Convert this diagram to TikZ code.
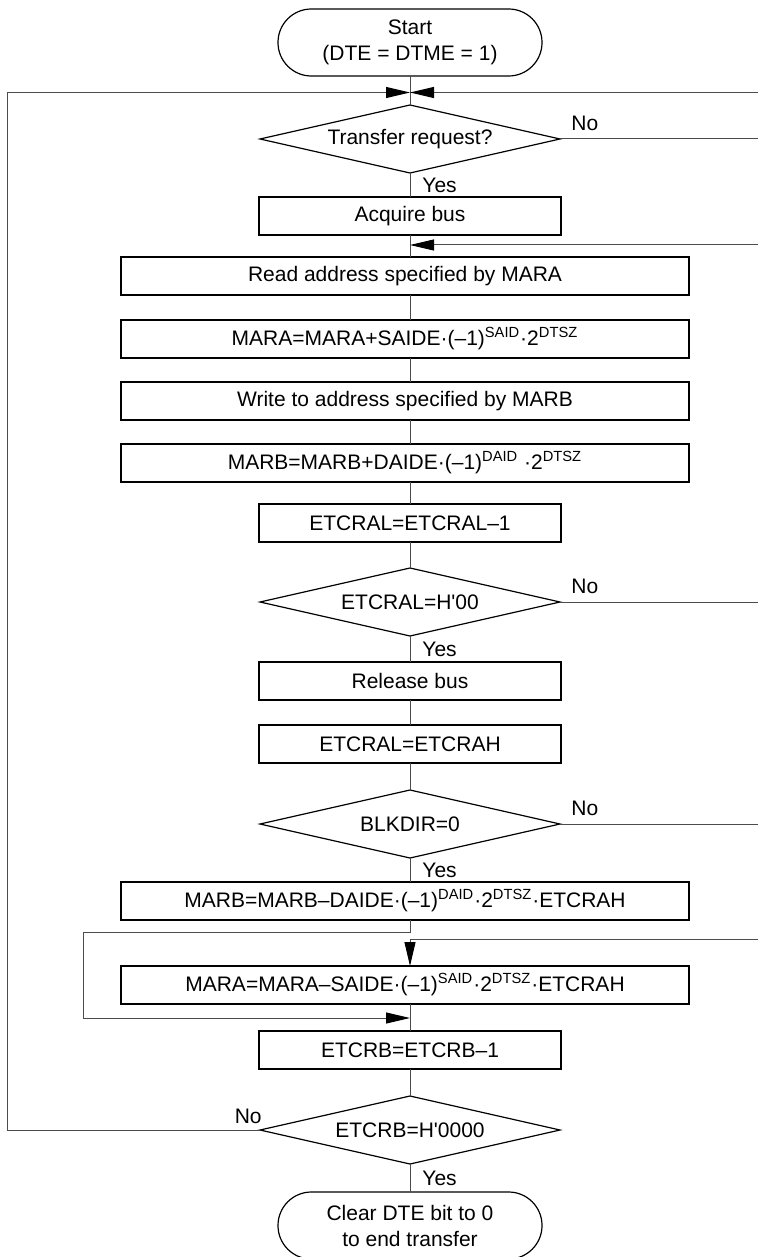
\documentclass[tikz,border=0pt]{standalone}
\usepackage{fontspec}
\setmainfont{Liberation Sans}
\usetikzlibrary{shapes.geometric, arrows.meta, positioning, calc}

\begin{document}
\begin{tikzpicture}[
    x=0.5pt, y=-0.5pt,
    font=\fontsize{10.5}{13}\selectfont,
    proc/.style={rectangle, draw=black, line width=0.6pt, minimum height=19pt, inner sep=1pt, outer sep=0pt, align=center},
    narrow/.style={proc, minimum width=151pt},
    wide/.style={proc, minimum width=284pt},
    decide/.style={diamond, draw=black, line width=0.6pt, minimum width=150pt, minimum height=34pt, inner sep=0pt, outer sep=0pt, aspect=4.4},
    term/.style={rectangle, rounded corners=16.7pt, draw=black, line width=0.6pt, minimum width=132pt, minimum height=33.5pt, outer sep=0pt, align=center},
    conn/.style={draw=black!70, line width=0.5pt},
    arr/.style={conn, -{Triangle[length=12pt, width=5.5pt, color=black]}},
    lbl/.style={inner sep=1pt}
]
\useasboundingbox (0,0) rectangle (758,1257);

\node[term] (start) at (410,42.5) {Start\\(DTE = DTME = 1)};
\node[decide, below=14.5pt of start] (d1) {Transfer request?};
\node[narrow, below=12pt of d1] (acq) {Acquire bus};
\node[wide, below=11pt of acq, xshift=-2.5pt] (rd) {Read address specified by MARA};
\node[wide, below=12.5pt of rd] (mara) {MARA=MARA+SAIDE·(–1)\textsuperscript{SAID}·2\textsuperscript{DTSZ}};
\node[wide, below=12pt of mara] (wr) {Write to address specified by MARB};
\node[wide, below=12pt of wr] (marb) {MARB=MARB+DAIDE·(–1)\textsuperscript{DAID} ·2\textsuperscript{DTSZ}};
\node[narrow, below=11pt of marb, xshift=2.5pt] (etl) {ETCRAL=ETCRAL–1};
\node[decide, below=13pt of etl] (d2) {ETCRAL=H\textquotesingle 00};
\node[narrow, below=13pt of d2] (rel) {Release bus};
\node[narrow, below=12.5pt of rel] (eth) {ETCRAL=ETCRAH};
\node[decide, below=13.5pt of eth] (d3) {BLKDIR=0};
\node[wide, below=12pt of d3, xshift=-2.5pt] (marb2) {MARB=MARB–DAIDE·(–1)\textsuperscript{DAID}·2\textsuperscript{DTSZ}·ETCRAH};
\node[wide, below=23pt of marb2] (mara2) {MARA=MARA–SAIDE·(–1)\textsuperscript{SAID}·2\textsuperscript{DTSZ}·ETCRAH};
\node[narrow, below=13.5pt of mara2, xshift=2.5pt] (etb) {ETCRB=ETCRB–1};
\node[decide, below=13.5pt of etb] (d4) {ETCRB=H\textquotesingle 0000};
\node[term, below=14pt of d4] (fin) {Clear DTE bit to 0\\to end transfer};

% joints of the loops
\coordinate (join) at (410,92.5);
\coordinate (back) at (410,245);
\coordinate (entry) at (410,939);
\coordinate (skip) at (83,932);
\coordinate (merge) at (410,1018);
\coordinate (lft) at (7,0);
\coordinate (rgt) at (758,0);

\foreach \a/\b in {start/d1, d1/acq, acq/rd, rd/mara, mara/wr, wr/marb, marb/etl, etl/d2, d2/rel, rel/eth, eth/d3, d3/marb2, mara2/etb, etb/d4, d4/fin}
    \draw[conn] (\a.south -| start) -- (\b.north -| start);

\draw[arr] (d4.west) -- (d4.west -| lft) |- (join);
\draw[arr] (join -| rgt) -- (join);
\draw[conn] (d1.east) -- (d1.east -| rgt);
\draw[arr] (back -| rgt) -- (back);
\draw[conn] (d2.east) -- (d2.east -| rgt);
\draw[conn] (d3.east) -- (d3.east -| rgt);
\draw[arr] (entry -| rgt) -| (mara2.north -| start);
\draw[arr] (marb2.south -| start) |- (skip) |- (merge);

\node[lbl, anchor=south west, xshift=4.5pt, yshift=3pt] at (d1.east) {No};
\node[lbl, anchor=south west, xshift=4.5pt, yshift=3pt] at (d2.east) {No};
\node[lbl, anchor=south west, xshift=4.5pt, yshift=3pt] at (d3.east) {No};
\node[lbl, anchor=south east, xshift=2pt, yshift=2pt] at (d4.west) {No};
\node[lbl, anchor=west, xshift=5pt] at ($(d1.south)!0.5!(acq.north)$) {Yes};
\node[lbl, anchor=west, xshift=5pt] at ($(d2.south)!0.5!(rel.north)$) {Yes};
\node[lbl, anchor=west, xshift=5pt] at ($(d3.south)!0.5!(d3.south |- marb2.north)$) {Yes};
\node[lbl, anchor=west, xshift=5pt] at ($(d4.south)!0.5!(fin.north)$) {Yes};

\end{tikzpicture}
\end{document}
